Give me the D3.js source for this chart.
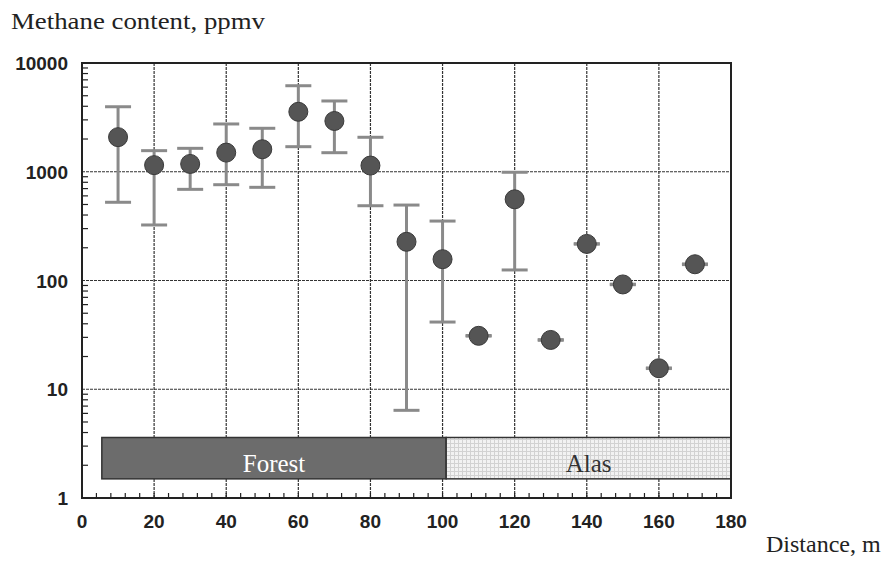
<!DOCTYPE html>
<html><head><meta charset="utf-8">
<script src="https://cdn.jsdelivr.net/npm/d3@7"></script>
<style>body{margin:0;background:#fff}</style>
</head><body><div id="chart"></div>
<script>
// values
var distance = [10,20,30,40,50,60,70,80,90,100,110,120,130,140,150,160,170];
var methane  = [2080,1150,1180,1500,1610,3560,2930,1140,227,157,31,558,28.4,217,92,15.6,141];
var errLow   = [524,324,689,760,719,1700,1497,487,6.4,41.5,30.8,125,28.2,216,91.5,15.5,140];
var errHigh  = [3960,1563,1642,2750,2510,6180,4475,2075,494,352,31.2,989,28.6,218,92.5,15.7,142];
var zones     = ["Forest","Alas"];
var zoneStart = [5.5,101];
var zoneEnd   = [101,180];
var zoneLow = 1.5, zoneHigh = 3.6;
var xTicks = [0,20,40,60,80,100,120,140,160,180];
var yTicks = [1,10,100,1000,10000];

var margin = {left: 82, top: 63, right: 164, bottom: 65},
    width = 895 - margin.left - margin.right,
    height = 563 - margin.top - margin.bottom;

var svg = d3.select("#chart").append("svg")
    .attr("width", 895).attr("height", 563)
    .style("font-family", "Liberation Sans, Arial, sans-serif");

var defs = svg.append("defs");
var pat = defs.append("pattern").attr("id", "alasFill")
    .attr("width", 4).attr("height", 4).attr("patternUnits", "userSpaceOnUse");
pat.append("rect").attr("width", 4).attr("height", 4).attr("fill", "#f2f2f2");
pat.append("path").attr("d", "M0,0.5H4M0.5,0V4").attr("stroke", "#d2d2d2").attr("stroke-width", 1);

var g = svg.append("g").attr("transform", "translate(" + margin.left + "," + margin.top + ")");

var x = d3.scaleLinear().domain([0, 180]).range([0, width]);
var y = d3.scaleLog().domain([1, 10000]).range([height, 0]);

// grid
g.selectAll(".vgrid").data(xTicks.slice(1, -1)).enter().append("line")
    .attr("x1", d => x(d)).attr("x2", d => x(d)).attr("y1", 0).attr("y2", height)
    .attr("stroke", "#333").attr("stroke-width", 1.2).attr("stroke-dasharray", "3,1");
g.selectAll(".hgrid").data(yTicks.slice(1, -1)).enter().append("line")
    .attr("x1", 0).attr("x2", width).attr("y1", d => y(d)).attr("y2", d => y(d))
    .attr("stroke", "#333").attr("stroke-width", 1.2).attr("stroke-dasharray", "3,1");

// minor ticks
var xMinor = d3.range(0, 181, 4);
g.selectAll(".xminor").data(xMinor).enter().append("line")
    .attr("x1", d => x(d)).attr("x2", d => x(d)).attr("y1", height).attr("y2", height - 5)
    .attr("stroke", "#222").attr("stroke-width", 1.2);
var yMinor = [];
for (var p = 0; p < 4; p++) for (var k = 2; k <= 9; k++) yMinor.push(k * Math.pow(10, p));
g.selectAll(".yminor").data(yMinor).enter().append("line")
    .attr("x1", 0).attr("x2", 6).attr("y1", d => y(d)).attr("y2", d => y(d))
    .attr("stroke", "#222").attr("stroke-width", 1.2);

// zone bars
g.selectAll(".zone").data(zones).enter().append("rect")
    .attr("x", (d, i) => x(zoneStart[i])).attr("width", (d, i) => x(zoneEnd[i]) - x(zoneStart[i]))
    .attr("y", y(zoneHigh)).attr("height", y(zoneLow) - y(zoneHigh))
    .attr("fill", (d, i) => i == 0 ? "#6c6c6c" : "url(#alasFill)")
    .attr("stroke", "#333").attr("stroke-width", 1.5);
g.selectAll(".zoneText").data(zones).enter().append("text")
    .attr("x", (d, i) => (x(zoneStart[i]) + x(zoneEnd[i])) / 2)
    .attr("y", y(zoneLow) - 7)
    .attr("text-anchor", "middle")
    .style("font-family", "Liberation Serif, Times New Roman, serif").style("font-size", "25px")
    .attr("fill", (d, i) => i == 0 ? "#fff" : "#333")
    .text(d => d);

// error bars
var pts = distance.map((d, i) => ({x: d, v: methane[i], lo: errLow[i], hi: errHigh[i]}));
var eb = g.selectAll(".err").data(pts).enter().append("g");
eb.append("line").attr("x1", d => x(d.x)).attr("x2", d => x(d.x))
    .attr("y1", d => y(d.lo)).attr("y2", d => y(d.hi))
    .attr("stroke", "#8a8a8a").attr("stroke-width", 3);
eb.selectAll(".cap").data(d => [[d.x, d.lo], [d.x, d.hi]]).enter().append("line")
    .attr("x1", d => x(d[0]) - 13).attr("x2", d => x(d[0]) + 13)
    .attr("y1", d => y(d[1])).attr("y2", d => y(d[1]))
    .attr("stroke", "#8a8a8a").attr("stroke-width", 3);

// points
g.selectAll(".pt").data(pts).enter().append("circle")
    .attr("cx", d => x(d.x)).attr("cy", d => y(d.v)).attr("r", 9.5)
    .attr("fill", "#555").attr("stroke", "#3a3a3a").attr("stroke-width", 1);

// frame
g.append("rect").attr("width", width).attr("height", height)
    .attr("fill", "none").attr("stroke", "#222").attr("stroke-width", 2);

// tick labels
g.selectAll(".xl").data(xTicks).enter().append("text")
    .attr("x", d => x(d)).attr("y", height + 30).attr("text-anchor", "middle")
    .style("font-size", "19px").style("font-weight", "bold").attr("fill", "#222")
    .text(d => d);
g.selectAll(".yl").data(yTicks).enter().append("text")
    .attr("x", -14).attr("y", d => y(d) + 7).attr("text-anchor", "end")
    .style("font-size", "19px").style("font-weight", "bold").attr("fill", "#222")
    .text(d => d);

// titles
svg.append("text").attr("x", 11).attr("y", 29)
    .attr("textLength", 254).attr("lengthAdjust", "spacingAndGlyphs")
    .style("font-family", "Liberation Serif, Times New Roman, serif").style("font-size", "24px")
    .attr("fill", "#222").text("Methane content, ppmv");
svg.append("text").attr("x", 766).attr("y", 552)
    .style("font-family", "Liberation Serif, Times New Roman, serif").style("font-size", "24px")
    .attr("fill", "#222").text("Distance, m");
</script></body></html>
